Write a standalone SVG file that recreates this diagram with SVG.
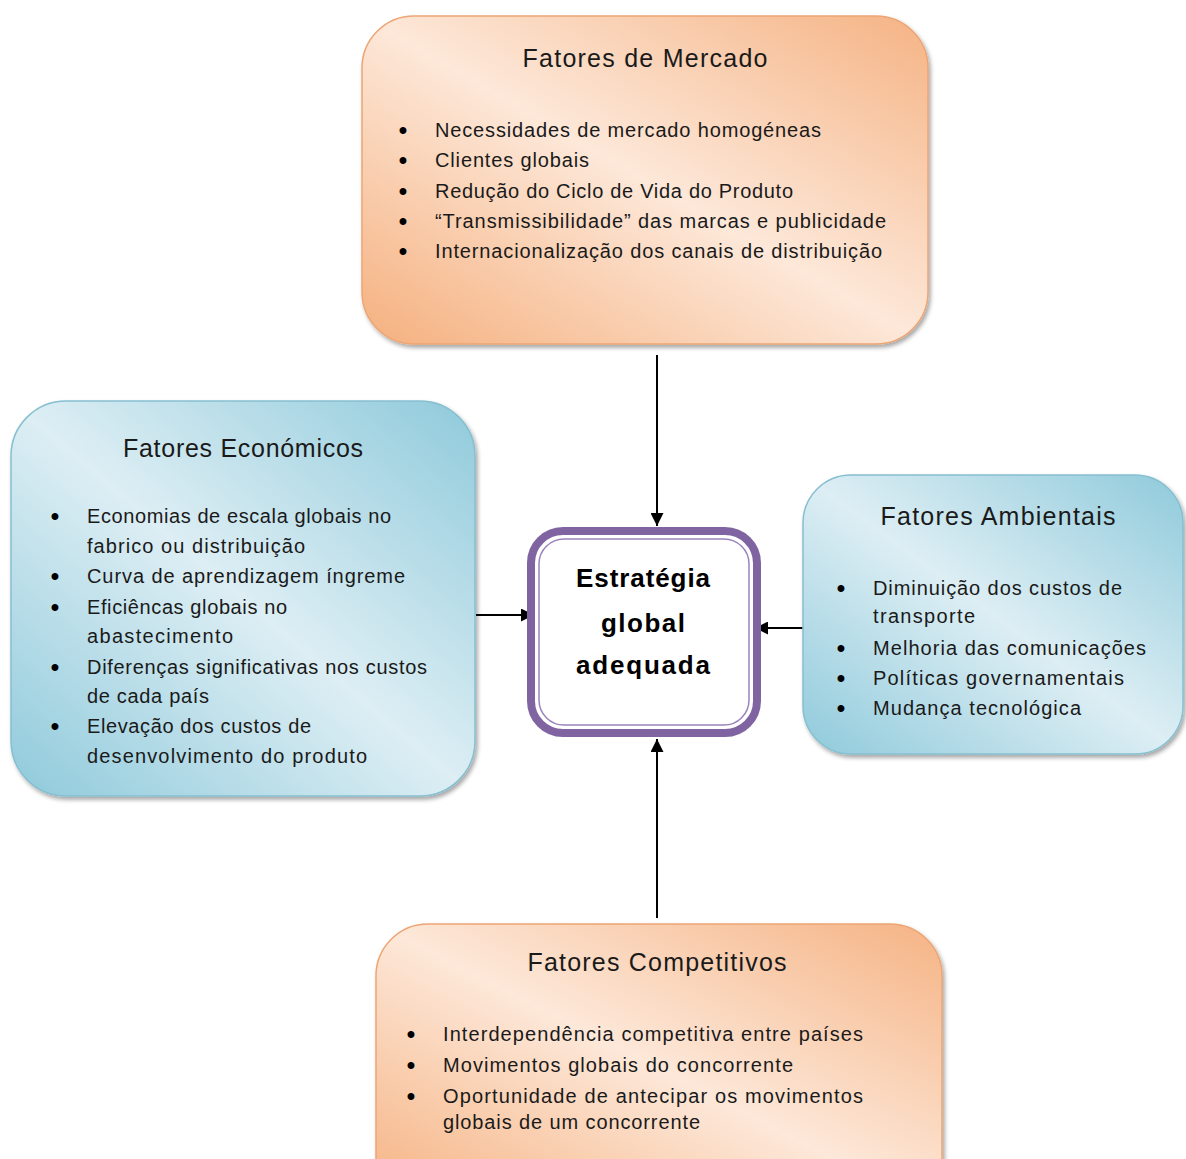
<svg xmlns="http://www.w3.org/2000/svg" width="1186" height="1159" viewBox="0 0 1186 1159">
  <defs>
    <linearGradient id="gradOrange" x1="0" y1="1" x2="1" y2="0">
      <stop offset="0" stop-color="#f5b07e"/>
      <stop offset="0.5" stop-color="#fde8d9"/>
      <stop offset="1" stop-color="#f5b384"/>
    </linearGradient>
    <linearGradient id="gradBlue" x1="0" y1="1" x2="1" y2="0">
      <stop offset="0" stop-color="#8fcadb"/>
      <stop offset="0.5" stop-color="#ddeef4"/>
      <stop offset="1" stop-color="#8fcadb"/>
    </linearGradient>
    <filter id="shadow" x="-5%" y="-5%" width="112%" height="115%">
      <feDropShadow dx="2" dy="3" stdDeviation="2" flood-color="#000000" flood-opacity="0.35"/>
    </filter>
    <marker id="arrow" viewBox="0 0 10 10" refX="10" refY="5" markerWidth="13" markerHeight="13" markerUnits="userSpaceOnUse" orient="auto">
      <path d="M0,0 L10,5 L0,10 z" fill="#000000"/>
    </marker>
  </defs>
  <style>
    .box-orange { fill: url(#gradOrange); stroke: #eda574; stroke-width: 1.5; filter: url(#shadow); }
    .box-blue { fill: url(#gradBlue); stroke: #86bfd0; stroke-width: 1.5; filter: url(#shadow); }
    .title { font-family: "Liberation Sans", Arial, sans-serif; font-size: 25px; fill: #1a1a1a; text-anchor: middle; }
    .item { font-family: "Liberation Sans", Arial, sans-serif; font-size: 20px; fill: #1a1a1a; }
    .bullet { font-family: "Liberation Sans", Arial, sans-serif; font-size: 24px; font-weight: bold; fill: #000000; text-anchor: middle; }
    .center { font-family: "Liberation Sans", Arial, sans-serif; font-size: 26px; font-weight: bold; fill: #000000; text-anchor: middle; }
    .conn { stroke: #000000; stroke-width: 2; fill: none; marker-end: url(#arrow); }
  </style>

  <!-- connectors -->
  <g id="connectors">
    <line class="conn" x1="657" y1="355" x2="657" y2="526"/>
    <line class="conn" x1="657" y1="918" x2="657" y2="739"/>
    <line class="conn" x1="476" y1="615" x2="534" y2="615"/>
    <line class="conn" x1="803" y1="628" x2="755" y2="628"/>
  </g>

  <!-- market factors -->
  <g id="fatores-mercado">
    <rect class="box-orange" x="362" y="16" width="566" height="328" rx="52" ry="52"/>
    <text class="title" x="645" y="67" textLength="245" lengthAdjust="spacing">Fatores de Mercado</text>
    <text class="bullet" x="403" y="138">•</text>
    <text class="bullet" x="403" y="168">•</text>
    <text class="bullet" x="403" y="199">•</text>
    <text class="bullet" x="403" y="229">•</text>
    <text class="bullet" x="403" y="259">•</text>
    <text class="item" x="435" y="137" textLength="386" lengthAdjust="spacing">Necessidades de mercado homogéneas</text>
    <text class="item" x="435" y="167" textLength="154" lengthAdjust="spacing">Clientes globais</text>
    <text class="item" x="435" y="198" textLength="358" lengthAdjust="spacing">Redução do Ciclo de Vida do Produto</text>
    <text class="item" x="435" y="228" textLength="451" lengthAdjust="spacing">“Transmissibilidade” das marcas e publicidade</text>
    <text class="item" x="435" y="258" textLength="447" lengthAdjust="spacing">Internacionalização dos canais de distribuição</text>
  </g>

  <!-- economic factors -->
  <g id="fatores-economicos">
    <rect class="box-blue" x="11" y="401" width="464" height="395" rx="55" ry="55"/>
    <text class="title" x="243" y="457" textLength="240" lengthAdjust="spacing">Fatores Económicos</text>
    <text class="bullet" x="55" y="524">•</text>
    <text class="bullet" x="55" y="584">•</text>
    <text class="bullet" x="55" y="615">•</text>
    <text class="bullet" x="55" y="675">•</text>
    <text class="bullet" x="55" y="734">•</text>
    <text class="item" x="87" y="523" textLength="304" lengthAdjust="spacing">Economias de escala globais no</text>
    <text class="item" x="87" y="553" textLength="218" lengthAdjust="spacing">fabrico ou distribuição</text>
    <text class="item" x="87" y="583" textLength="318" lengthAdjust="spacing">Curva de aprendizagem íngreme</text>
    <text class="item" x="87" y="614" textLength="200" lengthAdjust="spacing">Eficiêncas globais no</text>
    <text class="item" x="87" y="643" textLength="146" lengthAdjust="spacing">abastecimento</text>
    <text class="item" x="87" y="674" textLength="340" lengthAdjust="spacing">Diferenças significativas nos custos</text>
    <text class="item" x="87" y="703" textLength="122" lengthAdjust="spacing">de cada país</text>
    <text class="item" x="87" y="733" textLength="224" lengthAdjust="spacing">Elevação dos custos de</text>
    <text class="item" x="87" y="763" textLength="280" lengthAdjust="spacing">desenvolvimento do produto</text>
  </g>

  <!-- environmental factors -->
  <g id="fatores-ambientais">
    <rect class="box-blue" x="803" y="475" width="380" height="279" rx="48" ry="48"/>
    <text class="title" x="998" y="525" textLength="235" lengthAdjust="spacing">Fatores Ambientais</text>
    <text class="bullet" x="841" y="596">•</text>
    <text class="bullet" x="841" y="656">•</text>
    <text class="bullet" x="841" y="686">•</text>
    <text class="bullet" x="841" y="716">•</text>
    <text class="item" x="873" y="595" textLength="249" lengthAdjust="spacing">Diminuição dos custos de</text>
    <text class="item" x="873" y="623" textLength="102" lengthAdjust="spacing">transporte</text>
    <text class="item" x="873" y="655" textLength="273" lengthAdjust="spacing">Melhoria das comunicações</text>
    <text class="item" x="873" y="685" textLength="251" lengthAdjust="spacing">Políticas  governamentais</text>
    <text class="item" x="873" y="715" textLength="208" lengthAdjust="spacing">Mudança tecnológica</text>
  </g>

  <!-- competitive factors -->
  <g id="fatores-competitivos">
    <rect class="box-orange" x="376" y="924" width="566" height="290" rx="52" ry="52"/>
    <text class="title" x="657" y="971" textLength="259" lengthAdjust="spacing">Fatores Competitivos</text>
    <text class="bullet" x="411" y="1042">•</text>
    <text class="bullet" x="411" y="1073">•</text>
    <text class="bullet" x="411" y="1104">•</text>
    <text class="item" x="443" y="1041" textLength="420" lengthAdjust="spacing">Interdependência competitiva entre países</text>
    <text class="item" x="443" y="1072" textLength="350" lengthAdjust="spacing">Movimentos globais do concorrente</text>
    <text class="item" x="443" y="1103" textLength="420" lengthAdjust="spacing">Oportunidade de antecipar os movimentos</text>
    <text class="item" x="443" y="1129" textLength="257" lengthAdjust="spacing">globais de um concorrente</text>
  </g>

  <!-- central strategy node -->
  <g id="estrategia-global">
    <rect x="531" y="531" width="226" height="202" rx="32" ry="32" fill="#ffffff" stroke="#8064a2" stroke-width="8"/>
    <rect x="539" y="539" width="210" height="186" rx="25" ry="25" fill="none" stroke="#9b84bc" stroke-width="1.5"/>
    <text class="center" x="643" y="587" textLength="134" lengthAdjust="spacing">Estratégia</text>
    <text class="center" x="643" y="632" textLength="84" lengthAdjust="spacing">global</text>
    <text class="center" x="643" y="674" textLength="134" lengthAdjust="spacing">adequada</text>
  </g>
</svg>
